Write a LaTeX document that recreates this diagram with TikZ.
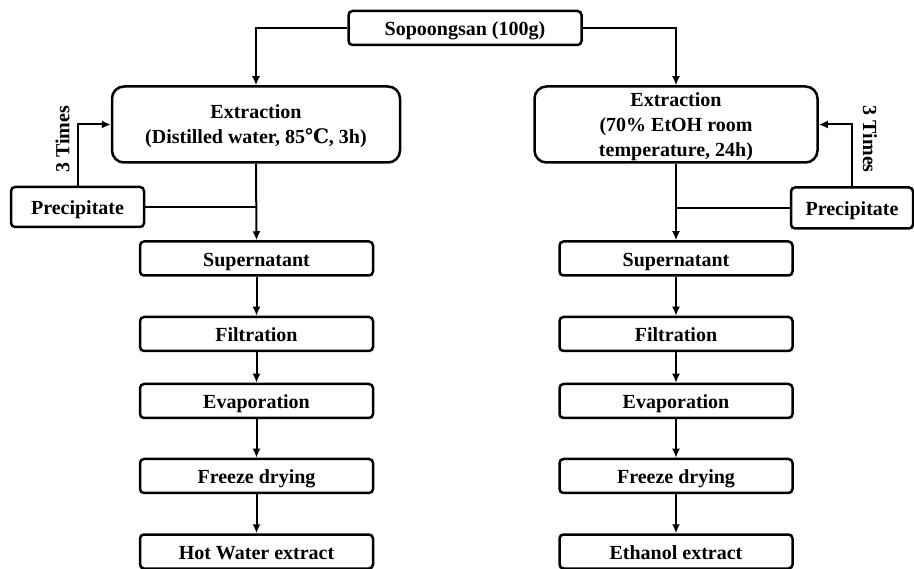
\documentclass[tikz,border=0pt]{standalone}
\usepackage{fontspec}
\setmainfont{Liberation Serif}
\newfontfamily\degfont{DejaVu Serif}
\usetikzlibrary{arrows.meta}

\begin{document}
\begin{tikzpicture}[x=1pt,y=-1pt,
    font=\bfseries\fontsize{20}{25}\selectfont,
    arr/.style={line width=2pt,-{Latex[length=9pt,width=8pt]}},
    lin/.style={line width=2pt}]

        \useasboundingbox (0,0) rectangle (914,569);

        \begin{scope}[every node/.style={draw,line width=2.5pt,rounded corners=4pt,
            inner sep=0pt,text height=16pt,text depth=0pt,
            minimum width=233pt,minimum height=34pt}]
          \node (src)  at (465,28)   {Sopoongsan (100g)};
          \node (supL) at (256.5,258.5) {Supernatant};
          \node (filL) at (256.5,334)   {Filtration};
          \node (evaL) at (256.5,401)   {Evaporation};
          \node (frzL) at (256.5,476)   {Freeze drying};
          \node (hotL) at (256.5,551.5) {Hot Water extract};
          \node (supR) at (676,258.5)   {Supernatant};
          \node (filR) at (676,334)     {Filtration};
          \node (evaR) at (676,401)     {Evaporation};
          \node (frzR) at (676,476)     {Freeze drying};
          \node (ethR) at (676,551.5)   {Ethanol extract};
          \node[minimum width=133pt,minimum height=40pt] (precL) at (77.5,207) {Precipitate};
          \node[minimum width=122pt,minimum height=41pt] (precR) at (852,208) {Precipitate};
        \end{scope}

        \begin{scope}[every node/.style={draw,line width=2.5pt,rounded corners=12pt,
            align=center,inner sep=0pt,text depth=-3.5pt,minimum height=76pt}]
          \node[minimum width=288pt] (extL) at (256,124.5)
            {Extraction\\(Distilled water, 85{\degfont ℃}, 3h)};
          \node[minimum width=283pt] (extR) at (676,124.5)
            {Extraction\\(70\% EtOH room\\temperature, 24h)};
        \end{scope}

        \coordinate (jL) at (precL.east -| extL.south);
        \coordinate (jR) at (precR.west -| extR.south);

        \draw[arr] (src.west) -| (extL.north);
        \draw[arr] (src.east) -| (extR.north);

        \draw[arr] (extL.south) -- (supL.north);
        \draw[lin] (precL.east) -- (jL);
        \draw[arr] (precL.north) |- node[pos=0.38,anchor=south,rotate=90,inner sep=7pt] {3 Times} (extL.west);

        \draw[arr] (extR.south) -- (supR.north);
        \draw[lin] (precR.west) -- (jR);
        \draw[arr] (precR.north) |- node[pos=0.38,anchor=south,rotate=-90,inner sep=10pt] {3 Times} (extR.east);

        \draw[arr] (supL) -- (filL);
        \draw[arr] (filL) -- (evaL);
        \draw[arr] (evaL) -- (frzL);
        \draw[arr] (frzL) -- (hotL);
        \draw[arr] (supR) -- (filR);
        \draw[arr] (filR) -- (evaR);
        \draw[arr] (evaR) -- (frzR);
        \draw[arr] (frzR) -- (ethR);

      \end{tikzpicture}
\end{document}
